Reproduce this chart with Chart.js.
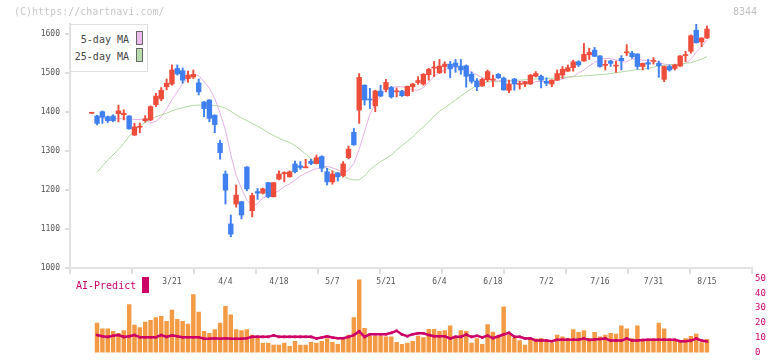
<!DOCTYPE html>
<html><head><meta charset="utf-8">
<script src="https://cdn.jsdelivr.net/npm/chart.js@4.4.1/dist/chart.umd.min.js"></script>
<style>
html,body{margin:0;padding:0;background:#fff;}
#wrap{position:relative;width:772px;height:361px;overflow:hidden;font-family:"DejaVu Sans Mono",monospace;}
canvas{position:absolute;left:0;}
#c1{top:0;}
#c2{top:270px;}
.t{position:absolute;white-space:nowrap;line-height:12px;}
</style></head>
<body><div id="wrap">
<canvas id="c2" width="772" height="91"></canvas>
<canvas id="c1" width="772" height="292"></canvas>
<div class="t" style="left:14px;top:6px;font-size:10px;color:#c8c8c8">(C)https://chartnavi.com/</div>
<div class="t" style="left:733px;top:6px;font-size:10px;color:#c0c0c0">8344</div>
<div style="position:absolute;left:70px;top:24px;width:76px;height:46px;border:1px solid #dedede;background:#fff;"></div>
<div class="t" style="right:643px;top:34px;font-size:10px;color:#444">5-day MA</div>
<div style="position:absolute;left:136px;top:31px;width:5px;height:12px;border:1px solid #666;background:#ebbbeb;"></div>
<div class="t" style="right:643px;top:51px;font-size:10px;color:#444">25-day MA</div>
<div style="position:absolute;left:136px;top:48px;width:5px;height:12px;border:1px solid #666;background:#b8dcaa;"></div>
<div class="t" style="left:76px;top:280px;font-size:10px;color:#c8006a">AI-Predict</div>
<div style="position:absolute;left:142px;top:277px;width:7px;height:16px;background:#cc0066;"></div>
</div>
<script>
// ---- data ----
const tickIndex = [15,25,35,45,55,65,75,85,95,105,115];
const tickLabels = ["3/21","4/4","4/18","5/7","5/21","6/4","6/18","7/2","7/16","7/31","8/15"];
const priceTicks = [1000,1100,1200,1300,1400,1500,1600];
const volTicks = [0,10,20,30,40,50];

const open = [1397,1390,1401,1388,1390,1396,1393,1390,1341,1361,
1378,1380,1419,1434,1465,1472,1512,1506,1486,1490,
1475,1426,1431,1392,1320,1241,1113,1164,1170,1259,
1147,1196,1192,1219,1183,1228,1242,1234,1267,1262,
1257,1274,1268,1286,1247,1221,1244,1237,1283,1348,
1405,1469,1432,1416,1454,1458,1463,1452,1454,1442,
1465,1476,1472,1496,1513,1501,1517,1523,1526,1518,
1519,1497,1480,1467,1483,1482,1497,1487,1456,1485,
1471,1472,1472,1492,1492,1479,1472,1482,1495,1505,
1514,1529,1531,1547,1559,1544,1520,1531,1518,1538,
1552,1551,1549,1517,1527,1530,1525,1484,1517,1512,
1518,1545,1556,1610,1580,1590];
const close = [1398,1371,1387,1378,1378,1403,1397,1357,1362,1363,
1383,1414,1441,1456,1474,1508,1498,1482,1495,1497,
1452,1409,1384,1368,1296,1200,1087,1187,1136,1203,
1186,1192,1203,1183,1219,1241,1244,1247,1247,1258,
1259,1268,1283,1256,1221,1241,1234,1267,1305,1316,
1489,1431,1431,1454,1441,1476,1439,1454,1442,1466,
1472,1481,1497,1510,1515,1518,1523,1511,1517,1508,
1492,1479,1465,1484,1504,1485,1488,1457,1472,1472,
1473,1478,1495,1499,1482,1474,1482,1499,1510,1514,
1529,1521,1548,1553,1543,1517,1522,1525,1520,1532,
1554,1542,1517,1525,1523,1532,1519,1517,1508,1521,
1544,1547,1596,1578,1590,1613];
const high = [1398,1392,1403,1390,1393,1418,1406,1391,1371,1372,
1391,1416,1448,1463,1485,1521,1521,1513,1505,1508,
1485,1427,1432,1393,1328,1249,1136,1213,1171,1260,
1192,1204,1205,1220,1220,1249,1247,1249,1274,1273,
1279,1279,1290,1288,1256,1249,1245,1273,1313,1358,
1499,1470,1461,1456,1469,1484,1466,1462,1456,1467,
1474,1491,1499,1512,1530,1535,1529,1530,1535,1535,
1521,1503,1486,1487,1508,1495,1499,1490,1482,1486,
1479,1479,1497,1504,1495,1488,1483,1508,1517,1521,
1533,1532,1576,1564,1566,1545,1533,1533,1531,1545,
1573,1556,1550,1526,1535,1540,1531,1518,1521,1523,
1545,1556,1598,1626,1591,1621];
const low = [1396,1367,1371,1373,1375,1375,1380,1356,1340,1347,
1374,1378,1414,1429,1457,1469,1495,1474,1476,1486,
1444,1388,1375,1347,1279,1164,1080,1156,1126,1198,
1131,1176,1190,1180,1182,1226,1221,1233,1244,1253,
1257,1265,1267,1247,1213,1215,1223,1233,1280,1315,
1371,1418,1409,1401,1440,1452,1436,1439,1440,1441,
1453,1471,1469,1482,1491,1499,1500,1488,1502,1497,
1464,1474,1455,1466,1478,1465,1486,1456,1450,1456,
1459,1465,1471,1490,1462,1468,1465,1481,1486,1504,
1505,1517,1530,1535,1542,1515,1508,1517,1502,1508,
1545,1538,1510,1508,1510,1523,1489,1478,1505,1508,
1517,1529,1551,1577,1568,1589];
const ma5 = [null,1390,1384,1383,1383,1383,1383,1382,1381,1381,
1380,1372,1376,1388,1408,1432,1452,1473,1486,1495,
1494,1478,1461,1435,1397,1354,1290,1238,1204,1174,
1160,1165,1180,1183,1192,1198,1209,1216,1226,1236,
1243,1250,1255,1258,1261,1257,1252,1244,1251,1268,
1305,1350,1395,1420,1442,1458,1464,1465,1465,1461,
1457,1456,1463,1477,1492,1502,1508,1516,1515,1513,
1510,1502,1496,1488,1486,1481,1480,1483,1481,1479,
1478,1478,1474,1478,1479,1478,1478,1481,1485,1489,
1491,1500,1508,1519,1527,1535,1538,1537,1534,1529,
1529,1536,1536,1533,1533,1531,1528,1523,1521,1521,
1522,1525,1535,1554,1568,1585];
const ma25 = [null,1245,1262,1277,1290,1304,1320,1338,1354,1365,
1373,1381,1388,1393,1397,1403,1408,1411,1415,1417,
1418,1418,1418,1417,1415,1410,1402,1393,1385,1378,
1371,1364,1356,1347,1340,1333,1327,1322,1314,1304,
1292,1280,1271,1263,1256,1249,1242,1236,1229,1226,
1226,1236,1252,1263,1273,1281,1290,1303,1314,1325,
1336,1350,1362,1375,1390,1402,1411,1421,1431,1441,
1451,1460,1469,1475,1477,1478,1478,1479,1480,1481,
1482,1483,1484,1485,1485,1486,1487,1488,1489,1490,
1491,1492,1493,1494,1495,1496,1497,1499,1501,1503,
1505,1507,1509,1510,1512,1515,1518,1520,1521,1522,
1523,1525,1527,1531,1536,1542];
const volume = [null,19.9,16.1,16.1,14.3,13.0,14.9,32.3,18.6,16.8,
20.5,21.7,23.6,24.4,21.1,28.6,22.4,21.1,19.3,39.1,
27.3,14.3,13.0,15.5,19.9,31.1,25.5,15.5,14.9,15.5,
11.8,11.2,6.4,6.4,5.0,5.0,6.4,4.3,7.6,5.0,
5.0,7.0,6.4,7.6,9.5,7.0,5.6,9.5,11.8,23.6,
49.1,16.4,11.2,11.2,11.2,10.6,10.6,7.0,5.6,6.4,
7.6,11.2,10.1,15.7,15.7,14.3,14.9,18.0,10.6,14.9,
14.3,6.4,9.5,5.6,18.8,13.9,11.2,30.8,11.8,9.7,
8.1,5.0,8.9,9.3,9.7,8.1,6.4,11.8,10.6,9.7,
15.5,13.7,14.9,9.7,13.7,10.6,11.8,13.0,12.4,18.0,
16.1,9.5,18.0,8.1,8.1,8.1,19.9,16.1,8.1,8.1,
7.2,9.5,11.0,12.4,6.8,8.9];
const aiPredict = [null,11.8,11.0,10.6,11.4,11.8,10.6,11.0,11.8,10.4,
10.4,10.4,10.4,11.8,10.6,11.6,11.0,10.4,10.4,10.4,
10.4,9.3,9.3,9.7,9.3,9.7,9.3,9.3,9.3,9.7,
10.6,10.6,10.6,10.6,11.6,10.6,10.6,10.6,10.6,10.6,
10.6,10.6,9.5,10.2,11.0,10.2,9.7,9.7,10.6,11.8,
14.3,10.6,12.4,12.4,12.4,12.4,13.3,14.7,12.2,11.0,
12.4,13.0,13.0,11.8,11.0,11.0,11.0,9.5,10.6,10.6,
12.2,10.6,11.4,10.2,11.4,9.7,11.0,12.2,13.3,10.6,
10.6,9.5,9.7,8.1,8.1,8.1,7.7,8.7,8.7,8.7,
8.7,8.7,9.5,8.5,8.9,9.1,9.5,8.1,8.1,8.1,
9.5,8.1,8.1,8.5,8.7,8.7,8.7,8.7,8.7,8.7,
7.7,7.7,8.1,9.5,8.1,7.5];

// ---- drawing ----
const UP = '#ef4d3c', DN = '#3f7ff0';
const FONT = '"DejaVu Sans Mono", monospace';
const idx = open.map((_, i) => i);
const candleColor = idx.map(i => close[i] >= open[i] ? UP : DN);
const XMIN = -4.056, XMAX = 123.42;

new Chart(document.getElementById('c1'), {
  type: 'bar',
  data: { datasets: [
    { type: 'line', label: '5-day MA', data: idx.map(i => ({x: i, y: ma5[i]})),
      borderColor: '#e6b0e6', borderWidth: 1, pointRadius: 0, tension: 0, order: 4, xAxisID: 'x', yAxisID: 'y' },
    { type: 'line', label: '25-day MA', data: idx.map(i => ({x: i, y: ma25[i]})),
      borderColor: '#b0d8a0', borderWidth: 1, pointRadius: 0, tension: 0, order: 3, xAxisID: 'x', yAxisID: 'y' },
    { label: 'wick', data: idx.map(i => ({x: i, y: [low[i], high[i]]})),
      backgroundColor: candleColor, barThickness: 1.3, grouped: false, order: 2, xAxisID: 'x', yAxisID: 'y' },
    { label: 'body', data: idx.map(i => ({x: i, y: [open[i], close[i]]})),
      backgroundColor: candleColor, barThickness: 4.7, minBarLength: 1, grouped: false, order: 1, xAxisID: 'x', yAxisID: 'y' }
  ]},
  options: {
    responsive: false, animation: false, devicePixelRatio: 1,
    layout: { padding: { top: 24, right: 20, left: 0, bottom: 0 } },
    plugins: { legend: { display: false }, tooltip: { enabled: false } },
    scales: {
      x: { type: 'linear', min: XMIN, max: XMAX, offset: false, position: 'bottom',
        afterBuildTicks: s => { s.ticks = Array.from({length: 12}, (_, k) => ({value: XMIN + k * (XMAX - XMIN) / 11})); },
        ticks: { display: false },
        grid: { drawOnChartArea: false, offset: false, color: '#dedede', tickLength: 6, lineWidth: 2 },
        border: { color: '#e2e2e2', width: 2 },
        afterFit: s => { s.height = 6; } },
      x2: { type: 'linear', min: XMIN, max: XMAX, offset: false, position: 'bottom',
        afterBuildTicks: s => { s.ticks = tickIndex.map(v => ({value: v})); },
        ticks: { autoSkip: false, maxRotation: 0, padding: 3, color: '#555', font: { family: FONT, size: 8 },
          callback: (v, i) => tickLabels[i] },
        grid: { display: false, drawTicks: false, offset: false },
        border: { display: false },
        afterFit: s => { s.height = 18; } },
      y: { type: 'linear', min: 1000, max: 1626, position: 'left',
        afterBuildTicks: s => { s.ticks = priceTicks.map(v => ({value: v})); },
        ticks: { padding: 5, color: '#555', font: { family: FONT, size: 8 }, callback: v => String(v) },
        grid: { drawOnChartArea: false, color: '#dedede', tickLength: 5, lineWidth: 2 },
        border: { color: '#e2e2e2', width: 2 },
        afterFit: s => { s.width = 70; } }
    }
  }
});

new Chart(document.getElementById('c2'), {
  type: 'bar',
  data: { datasets: [
    { type: 'line', label: 'AI-Predict', data: idx.map(i => ({x: i, y: aiPredict[i]})),
      borderColor: '#cc0066', borderWidth: 2.5, pointStyle: 'rect', pointRadius: 1.8,
      pointBackgroundColor: '#cc0066', pointBorderWidth: 0, tension: 0, order: 1 },
    { label: 'bars', data: idx.map(i => ({x: i, y: volume[i]})),
      backgroundColor: '#f39a44', barThickness: 3.8, grouped: false, order: 2 }
  ]},
  options: {
    responsive: false, animation: false, devicePixelRatio: 1,
    layout: { padding: { top: 7.5, right: 0, left: 70, bottom: 3 } },
    plugins: { legend: { display: false }, tooltip: { enabled: false } },
    scales: {
      x: { type: 'linear', min: XMIN, max: XMAX, offset: false, display: false },
      y: { type: 'linear', min: 0, max: 50, position: 'right',
        afterBuildTicks: s => { s.ticks = volTicks.map(v => ({value: v})); },
        ticks: { padding: 3, color: '#c8006a', font: { family: FONT, size: 9 }, callback: v => String(v) },
        grid: { display: false, drawTicks: false },
        border: { display: false },
        afterFit: s => { s.width = 20; } }
    }
  }
});
</script>
</body></html>
